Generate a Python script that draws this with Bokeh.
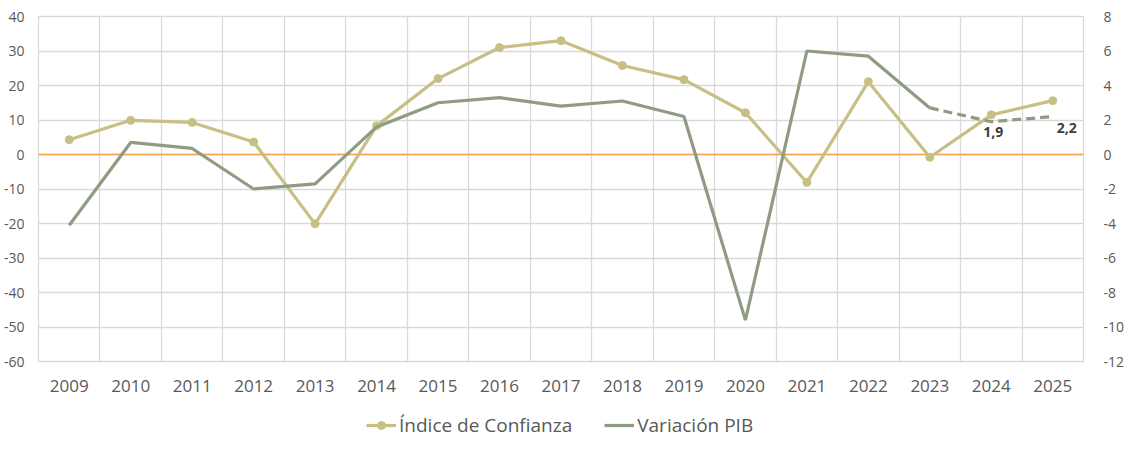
from bokeh.plotting import figure
from bokeh.layouts import column
from bokeh.models import Range1d, LinearAxis, FixedTicker, Legend, LegendItem, Span
from bokeh.core.properties import value
from bokeh.embed import file_html
from bokeh.resources import INLINE

years = ["2009", "2010", "2011", "2012", "2013", "2014", "2015", "2016", "2017",
         "2018", "2019", "2020", "2021", "2022", "2023", "2024", "2025"]
confianza = [4.3, 9.9, 9.3, 3.6, -20.1, 8.3, 22.0, 31.0, 33.0, 25.8, 21.7, 12.1,
             -8.1, 21.1, -0.8, 11.5, 15.6]
pib_hist_years = years[:15]
pib_hist = [-4.1, 0.7, 0.35, -2.0, -1.7, 1.6, 3.0, 3.3, 2.8, 3.1, 2.2, -9.6,
            6.0, 5.7, 2.7]
pib_fcst_years = ["2023", "2024", "2025"]
pib_fcst = [2.7, 1.9, 2.2]
label_texts = ["1,9", "2,2"]
left_ticks = list(range(-60, 41, 10))
right_ticks = list(range(-12, 9, 2))

FONT = "Open Sans"
TXT = "#595959"
C_CONF = "#C8BF85"
C_PIB = "#8F9C84"
GRID = "#D9D9D9"

idx = {y: i for i, y in enumerate(years)}
xc = [idx[y] for y in years]
xh = [idx[y] for y in pib_hist_years]
xf = [idx[y] for y in pib_fcst_years]

p = figure(width=1136, height=400, x_range=Range1d(-0.5, len(years) - 0.5),
           y_range=Range1d(left_ticks[0], left_ticks[-1]), output_backend="svg",
           toolbar_location=None,
           min_border_left=38, min_border_right=53, min_border_top=16,
           min_border_bottom=39, background_fill_color="white",
           border_fill_color="white")
p.outline_line_color = GRID
p.outline_line_width = 1.3
p.extra_y_ranges = {"pib": Range1d(right_ticks[0], right_ticks[-1])}

# axes
p.xaxis.ticker = FixedTicker(ticks=xc)
p.xaxis.major_label_overrides = {i: y for i, y in enumerate(years)}
p.yaxis.ticker = FixedTicker(ticks=left_ticks)
p.yaxis.major_label_overrides = {t: str(t) for t in left_ticks}
right = LinearAxis(y_range_name="pib", ticker=FixedTicker(ticks=right_ticks),
                   major_label_overrides={t: str(t) for t in right_ticks})
p.add_layout(right, "right")
for ax in [p.xaxis[0], p.yaxis[0], right]:
    ax.axis_line_color = None
    ax.major_tick_line_color = None
    ax.minor_tick_line_color = None
    ax.major_label_text_font = FONT
    ax.major_label_text_color = TXT
p.xaxis.major_label_text_font_size = "17px"
p.xaxis.major_label_standoff = 12
p.yaxis[0].major_label_text_font_size = "14px"
p.yaxis[0].major_label_standoff = 8
right.major_label_text_font_size = "14px"
right.major_label_standoff = 14

# grids
p.xgrid.ticker = FixedTicker(ticks=[i - 0.5 for i in range(len(years) + 1)])
p.xgrid.grid_line_color = GRID
p.xgrid.grid_line_width = 1.3
p.ygrid.grid_line_color = GRID
p.ygrid.grid_line_width = 1.3

zero = Span(location=0, dimension="width", line_color="#F2A24A", line_width=1.6,
            level="underlay")
p.add_layout(zero)

# series
p.line(xc, confianza, line_color=C_CONF, line_width=3.2)
p.scatter(xc, confianza, size=8, fill_color=C_CONF, line_color=C_CONF)
p.line(xh, pib_hist, line_color=C_PIB, line_width=3.2, y_range_name="pib")
p.line(xf, pib_fcst, line_color=C_PIB, line_width=3.2, line_dash="9 5",
       y_range_name="pib")

p.text([xf[1]], [pib_fcst[1]], text=[label_texts[0]], y_range_name="pib",
       x_offset=2, y_offset=5, text_align="center", text_baseline="top",
       text_font=value(FONT), text_font_size="14px", text_font_style="bold",
       text_color="#404040")
p.text([xf[2]], [pib_fcst[2]], text=[label_texts[1]], y_range_name="pib",
       x_offset=14, y_offset=6, text_align="center", text_baseline="top",
       text_font=value(FONT), text_font_size="14px", text_font_style="bold",
       text_color="#404040")

# legend in its own strip below the chart (dummy renderers kept off-range)
q = figure(width=1136, height=68, output_backend="svg", toolbar_location=None,
           x_range=Range1d(0, 1), y_range=Range1d(0, 1), min_border=0,
           background_fill_color="white", border_fill_color="white")
q.axis.visible = False
q.grid.visible = False
q.outline_line_color = None
lc = q.line([-5, -4], [-5, -4], line_color=C_CONF, line_width=3.2)
lp = q.scatter([-5], [-5], size=8, fill_color=C_CONF, line_color=C_CONF)
lg = q.line([-5, -4], [-5, -4], line_color=C_PIB, line_width=3.2)
legend = Legend(items=[LegendItem(label="Índice de Confianza", renderers=[lc, lp]),
                       LegendItem(label="Variación PIB", renderers=[lg])],
                orientation="horizontal", location=(328, 30),
                label_text_font=FONT, label_text_font_size="19px",
                label_text_color=TXT, glyph_width=30, label_standoff=3,
                spacing=32, padding=4, margin=0, border_line_color=None,
                background_fill_alpha=0)
q.add_layout(legend)

open("out.html", "w").write(file_html(column(p, q, spacing=0), INLINE))
